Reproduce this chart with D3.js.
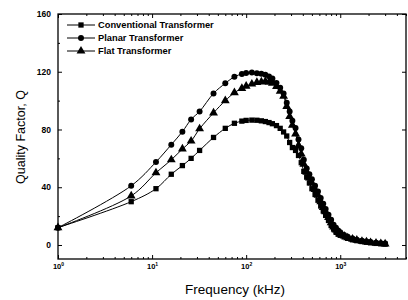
<!DOCTYPE html>
<html>
<head>
<meta charset="utf-8">
<script src="https://cdn.jsdelivr.net/npm/d3@7"></script>
<style>
  body { margin: 0; background: #fff; }
  svg { display: block; font-family: "Liberation Sans", Arial, sans-serif; }
  .axis path, .axis line { stroke: #000; }
  .axis text { fill: #000; font-weight: bold; }
</style>
</head>
<body>
<div id="chart"></div>
<script>
// frequency sweep (kHz), shared by the three transformers
const freqs = [1, 6, 11, 16, 21, 26, 32, 45, 60, 75, 90, 100, 115, 130, 145, 160, 175, 190,
  210, 230, 250, 270, 290, 310, 335, 360, 385, 410, 440, 470, 500, 540, 580, 620, 660, 700,
  750, 800, 850, 900, 950, 1000, 1100, 1200, 1350, 1500, 1700, 1900, 2100, 2400, 2700, 3000];

const conventionalQ = [12, 30, 39, 49, 55, 60, 65.5, 74.5, 80.8, 84.3, 85.8, 86.3, 86.5, 86.4, 86,
  85.5, 84.8, 84, 82.7, 80.8, 78.3, 75.5, 71, 67.5, 65.5, 62, 57, 51, 47, 43, 39, 35, 31,
  27, 23.5, 20.5, 17, 13.5, 11, 9, 7.5, 6.7, 5.6, 4.6, 3.6, 3, 2.4, 1.9, 1.5, 1.1, 0.8, 0.6];

const planarQ = [12, 41, 57.5, 69.5, 78.5, 87, 92.5, 105, 112, 116.5, 118.5, 119.2, 119.5, 119,
  118.6, 118, 116.8, 115.3, 112.3, 109, 105, 98.5, 92.5, 86, 81, 73, 67, 59, 53, 49, 45.5, 41, 37,
  32.5, 28.5, 25, 21, 17.5, 14, 12, 10, 8.8, 7, 5.7, 4.5, 3.7, 3, 2.5, 2, 1.6, 1.3, 1.1];

const flatQ = [12, 34, 50, 59, 66.5, 72, 80.5, 91.5, 100, 105.5, 108.5, 110, 111.5, 112.6, 113,
  113.3, 112.8, 112, 109.8, 106.5, 103, 96, 89, 83, 77, 69, 63, 56, 50.5, 46.5, 43, 38.5, 34.5,
  30, 26, 23, 19, 15.5, 12.5, 10.5, 8.7, 7.7, 6.2, 5, 4, 3.3, 2.6, 2.1, 1.7, 1.3, 1, 0.8];

const seriesNames = ["Conventional Transformer", "Planar Transformer", "Flat Transformer"];
const seriesSymbols = [d3.symbolSquare, d3.symbolCircle, d3.symbolTriangle];
const seriesSizes = [28, 28, 34];
const seriesValues = [conventionalQ, planarQ, flatQ];

const yTicks = [0, 40, 80, 120, 160];
const yMinorTicks = [20, 60, 100, 140];
const xTicks = [1, 10, 100, 1000];
const xTickExponents = ["0", "1", "2", "3"];

const width = 408;
const height = 300;
const margins = { top: 14, right: 2, bottom: 41, left: 58 };
const chartWidth = width - margins.left - margins.right;
const chartHeight = height - margins.top - margins.bottom;

const xScale = d3.scaleLog().domain([1, 5000]).range([0, chartWidth]);
const yScale = d3.scaleLinear().domain([-9.7, 160]).range([chartHeight, 0]);

const xMinor = [];
[1, 10, 100, 1000].forEach(dec => {
  for (let k = 2; k <= 9; k++) {
    if (dec * k <= 5000) xMinor.push(dec * k);
  }
});

const svg = d3.select("#chart")
  .append("svg")
  .attr("width", width)
  .attr("height", height);

const chart = svg.append("g")
  .attr("transform", `translate(${margins.left}, ${margins.top})`);

// frame
chart.append("rect")
  .attr("width", chartWidth)
  .attr("height", chartHeight)
  .attr("fill", "none")
  .attr("stroke", "#000")
  .attr("stroke-width", 1.3);

// x axis, ticks pointing into the plot
const xAxisG = chart.append("g")
  .attr("class", "axis")
  .attr("transform", `translate(0, ${chartHeight})`)
  .call(d3.axisBottom(xScale).tickValues(xTicks).tickSize(-4).tickPadding(5)
    .tickFormat(() => ""));
xAxisG.select(".domain").remove();
xAxisG.selectAll(".tick text").each(function (d, i) {
  const t = d3.select(this).attr("font-size", 7.5);
  t.append("tspan").text("10");
  t.append("tspan").text(xTickExponents[i]).attr("font-size", 5).attr("dy", "-3");
});

chart.append("g")
  .attr("class", "axis")
  .attr("transform", `translate(0, ${chartHeight})`)
  .call(d3.axisBottom(xScale).tickValues(xMinor).tickSize(-2).tickFormat(() => ""))
  .select(".domain").remove();

// top mirrored ticks
chart.append("g")
  .attr("class", "axis")
  .call(d3.axisTop(xScale).tickValues(xTicks).tickSize(-4).tickFormat(() => ""))
  .select(".domain").remove();
chart.append("g")
  .attr("class", "axis")
  .call(d3.axisTop(xScale).tickValues(xMinor).tickSize(-2).tickFormat(() => ""))
  .select(".domain").remove();

// y axis
const yAxisG = chart.append("g")
  .attr("class", "axis")
  .call(d3.axisLeft(yScale).tickValues(yTicks).tickSize(-4).tickPadding(7));
yAxisG.select(".domain").remove();
yAxisG.selectAll(".tick text").attr("font-size", 8.5);

chart.append("g")
  .attr("class", "axis")
  .call(d3.axisLeft(yScale).tickValues(yMinorTicks).tickSize(-2).tickFormat(() => ""))
  .select(".domain").remove();

chart.append("g")
  .attr("class", "axis")
  .attr("transform", `translate(${chartWidth}, 0)`)
  .call(d3.axisRight(yScale).tickValues(yTicks).tickSize(-4).tickFormat(() => ""))
  .select(".domain").remove();

// curves
const line = d3.line()
  .x(d => xScale(d.f))
  .y(d => yScale(d.q))
  .curve(d3.curveCatmullRom.alpha(0.5));

seriesValues.forEach((vals, s) => {
  const pts = freqs.map((f, i) => ({ f: f, q: vals[i] }));
  chart.append("path")
    .datum(pts)
    .attr("fill", "none")
    .attr("stroke", "#000")
    .attr("stroke-width", 1)
    .attr("d", line);
  chart.selectAll(null)
    .data(pts)
    .enter()
    .append("path")
    .attr("transform", d => `translate(${xScale(d.f)}, ${yScale(d.q)})`)
    .attr("d", d3.symbol().type(seriesSymbols[s]).size(seriesSizes[s]))
    .attr("fill", "#000");
});

// legend
const legend = chart.append("g").attr("transform", "translate(9, 11)");
seriesNames.forEach((name, i) => {
  const row = legend.append("g").attr("transform", `translate(0, ${i * 13})`);
  row.append("line")
    .attr("x1", 0).attr("x2", 28)
    .attr("stroke", "#000").attr("stroke-width", 1);
  row.append("path")
    .attr("transform", "translate(14, 0)")
    .attr("d", d3.symbol().type(seriesSymbols[i]).size(seriesSizes[i]))
    .attr("fill", "#000");
  row.append("text")
    .attr("x", 31)
    .attr("dy", "0.35em")
    .attr("font-size", 9.3)
    .attr("font-weight", "bold")
    .text(name);
});

// axis titles
svg.append("text")
  .attr("x", 235)
  .attr("y", 294)
  .attr("text-anchor", "middle")
  .attr("font-size", 13.5)
  .text("Frequency (kHz)");

svg.append("text")
  .attr("transform", "translate(25, 137) rotate(-90)")
  .attr("text-anchor", "middle")
  .attr("font-size", 12.5)
  .text("Quality Factor, Q");
</script>
</body>
</html>
